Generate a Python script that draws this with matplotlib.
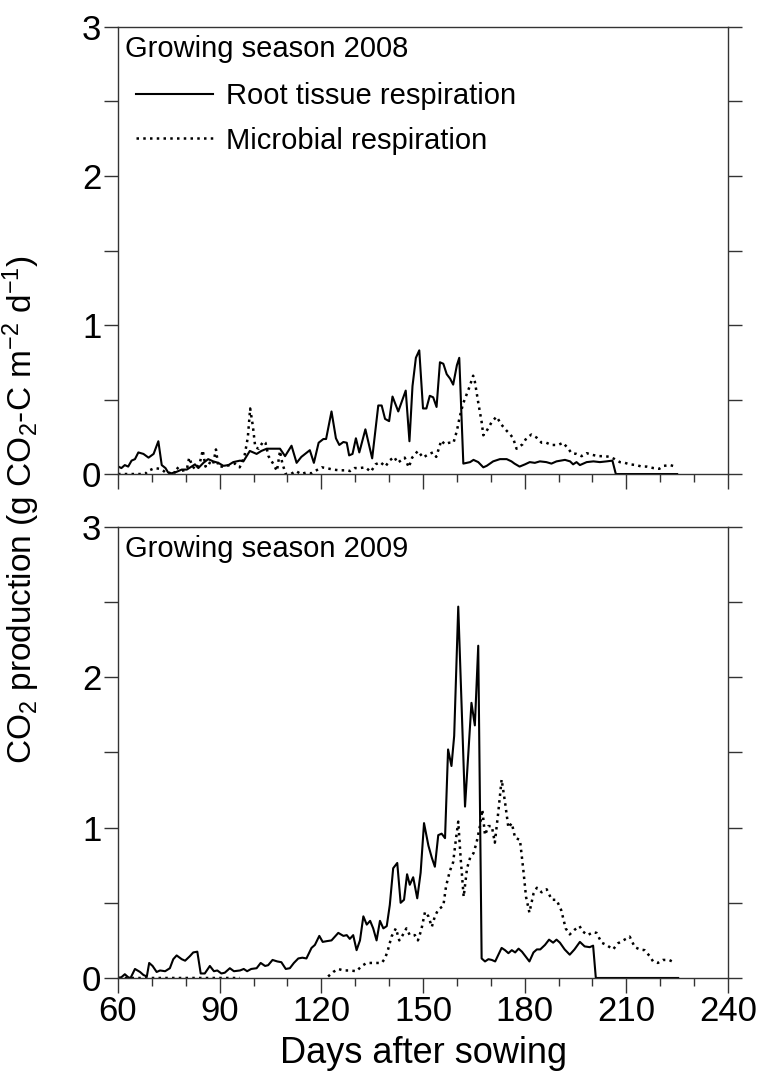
import numpy as np
import matplotlib.pyplot as plt
from matplotlib.ticker import MultipleLocator

plt.rcParams['font.family'] = ['Liberation Sans', 'DejaVu Sans']
plt.rcParams['mathtext.fontset'] = 'custom'
plt.rcParams['mathtext.rm'] = 'Liberation Sans'
plt.rcParams['mathtext.it'] = 'Liberation Sans'
plt.rcParams['mathtext.default'] = 'regular'

# --- 2008, root tissue respiration
root08_day = [60.1, 61, 62, 63, 64, 65, 66, 67.5, 69, 70.5, 71.9, 72.9, 74, 74.8, 75.8, 77.3,
              78.8, 80.3, 81.7, 82.7, 83.7, 85.2, 86.6, 88.1, 89.6, 91.1, 92.6, 94, 96, 97,
              98.9, 100.9, 102.3, 103.9, 105.9, 107.8, 109.3, 111.2, 112.7, 114.1, 116.6, 117.8,
              119.2, 120.6, 121.4, 123, 124.3, 125.3, 126.5, 127.5, 128.2, 129.2, 130.2, 131.2,
              133, 135, 136.8, 137.8, 138.8, 140, 141, 142.7, 144.9, 146, 146.9, 147.9, 148.9,
              150, 151, 152, 153, 154, 155, 156, 157, 158, 158.9, 160, 160.7, 161.9, 163.9,
              164.9, 166.3, 167.8, 168.8, 170.7, 172.7, 174.7, 176.1, 177, 178.5, 180.1, 181.5,
              183, 184.5, 186.4, 187.9, 189.4, 191.9, 193.4, 194.3, 195.3, 196.3, 198.3, 200.3,
              202.2, 204.2, 205.9, 206.9, 215, 225]
root08 = [0.05, 0.04, 0.06, 0.05, 0.09, 0.10, 0.145, 0.135, 0.11, 0.135, 0.22, 0.06, 0.04, 0.01,
          0.005, 0.015, 0.03, 0.03, 0.05, 0.065, 0.04, 0.075, 0.10, 0.085, 0.075, 0.055, 0.06,
          0.08, 0.09, 0.085, 0.155, 0.135, 0.155, 0.17, 0.17, 0.17, 0.12, 0.19, 0.075, 0.115,
          0.16, 0.075, 0.21, 0.235, 0.235, 0.42, 0.24, 0.195, 0.215, 0.21, 0.125, 0.135, 0.24,
          0.145, 0.30, 0.105, 0.46, 0.46, 0.37, 0.355, 0.52, 0.42, 0.56, 0.22, 0.59, 0.78, 0.83,
          0.44, 0.44, 0.525, 0.515, 0.45, 0.75, 0.74, 0.67, 0.64, 0.60, 0.73, 0.78, 0.07, 0.08,
          0.095, 0.08, 0.045, 0.055, 0.085, 0.10, 0.10, 0.085, 0.07, 0.05, 0.065, 0.08, 0.075,
          0.085, 0.08, 0.07, 0.085, 0.095, 0.085, 0.065, 0.08, 0.06, 0.08, 0.085, 0.08, 0.085,
          0.09, 0.0, 0.0, 0.0]

# --- 2008, microbial respiration
mic08_day = [60, 62, 64, 66, 68, 68.8, 70.8, 72.3, 73.5, 74.5, 75.5, 76.5, 77.3, 78.5, 80.3, 81,
             82, 83, 84.2, 85, 85.8, 86.6, 88, 88.9, 89.6, 91, 93, 94.5, 95.9, 96.6, 97.4, 98.3,
             99, 99.8, 100.5, 101.5, 102.9, 103.5, 104.4, 105.9, 106.9, 107.8, 108.5, 109.5, 111,
             112.5, 114, 115.5, 117, 120.1, 121.5, 123.4, 125.3, 127.5, 128.5, 129.8, 131.3, 133,
             134.6, 136, 137.4, 138.9, 140.1, 141.5, 142.5, 144.6, 145.8, 146.8, 148.5, 150,
             151.4, 152.9, 153.9, 155.4, 156.4, 157.7, 159, 160, 160.8, 161.8, 162.8, 163.8,
             164.8, 165.3, 166.3, 167.3, 167.8, 168.8, 170.3, 171.7, 173.2, 174.7, 175.6, 176.6,
             177.6, 179.4, 180.5, 182, 183.5, 185, 186.4, 187.9, 189.9, 191.3, 192.9, 193.8,
             195.3, 196.8, 198.3, 199.7, 201.7, 203.7, 205.1, 206.6, 208.1, 209.6, 211, 213,
             214.5, 216, 218, 219.7, 221.1, 222.9, 224.5]
mic08 = [0, 0, 0, 0, 0, 0.02, 0.04, 0.035, 0.02, 0.0, 0.01, 0.0, 0.045, 0.02, 0.03, 0.11, 0.05,
         0.03, 0.08, 0.16, 0.05, 0.08, 0.06, 0.165, 0.05, 0.05, 0.06, 0.07, 0.045, 0.08, 0.13,
         0.245, 0.44, 0.32, 0.18, 0.17, 0.22, 0.21, 0.12, 0.065, 0.02, 0.155, 0.07, 0.0, 0.0,
         0.02, 0.0, 0.01, 0.005, 0.045, 0.04, 0.03, 0.025, 0.025, 0.02, 0.04, 0.04, 0.045,
         0.015, 0.065, 0.08, 0.05, 0.09, 0.115, 0.075, 0.11, 0.045, 0.11, 0.155, 0.11, 0.13,
         0.145, 0.115, 0.225, 0.20, 0.21, 0.21, 0.29, 0.38, 0.47, 0.53, 0.59, 0.66, 0.62, 0.48,
         0.35, 0.26, 0.29, 0.35, 0.385, 0.33, 0.29, 0.27, 0.24, 0.17, 0.20, 0.24, 0.265, 0.245,
         0.21, 0.21, 0.195, 0.195, 0.21, 0.17, 0.14, 0.135, 0.12, 0.14, 0.13, 0.12, 0.12, 0.115,
         0.10, 0.08, 0.075, 0.065, 0.06, 0.05, 0.05, 0.04, 0.035, 0.055, 0.06, 0.05]

# --- 2009, root tissue respiration
root09_day = [60, 61, 62, 63, 63.7, 65, 66.5, 67.5, 68.5, 69.2, 70.2, 71.4, 72.4, 73.9, 75.3, 76.3,
              77.3, 78.8, 79.8, 81.2, 82.2, 83.4, 84.4, 85.6, 87.1, 88.3, 89.3, 90.5, 91.5, 93,
              94.2, 96, 97.1, 98.1, 99.3, 100.9, 102.1, 103.4, 104.3, 105.6, 107, 108.2, 109.5,
              110.7, 111.9, 113.2, 114.4, 115.6, 117.1, 118.1, 119.4, 120.4, 121.6, 123, 125,
              126.5, 127.5, 128.4, 129.4, 130.4, 131.4, 132.4, 133.4, 134.4, 135.3, 136.3, 137.3,
              138.3, 139.3, 140.2, 141.2, 142.4, 143.4, 144.4, 145.3, 146.1, 147.1, 148.3, 149.3,
              150.3, 151.6, 152.6, 153.5, 154.5, 155.5, 156.5, 157.4, 158.4, 159.2, 160.4, 161.4,
              162.4, 163.4, 164.3, 165.3, 166.3, 167.3, 168.3, 169.3, 170.3, 171.3, 173.2, 174.2,
              175.2, 176.2, 177.2, 178.2, 179.2, 180.2, 181.4, 182.6, 183.6, 184.6, 186, 187.2,
              188.4, 189.4, 190.4, 191.8, 193.3, 194.7, 196.3, 197.7, 199.2, 200.2, 201, 210,
              225.3]
root09 = [0, 0.005, 0.025, 0.005, 0, 0.06, 0.04, 0.02, 0.01, 0.10, 0.08, 0.04, 0.05, 0.045, 0.065,
          0.125, 0.15, 0.125, 0.115, 0.145, 0.17, 0.175, 0.03, 0.03, 0.08, 0.045, 0.05, 0.03,
          0.035, 0.065, 0.045, 0.05, 0.06, 0.045, 0.06, 0.065, 0.10, 0.08, 0.085, 0.12, 0.11,
          0.105, 0.06, 0.065, 0.10, 0.13, 0.135, 0.13, 0.20, 0.22, 0.28, 0.24, 0.245, 0.25, 0.30,
          0.28, 0.285, 0.26, 0.285, 0.185, 0.25, 0.41, 0.355, 0.38, 0.33, 0.25, 0.38, 0.33,
          0.345, 0.485, 0.73, 0.765, 0.50, 0.52, 0.69, 0.62, 0.67, 0.53, 0.70, 1.03, 0.88, 0.80,
          0.74, 0.95, 0.96, 0.93, 1.52, 1.41, 1.61, 2.47, 1.81, 1.14, 1.50, 1.83, 1.68, 2.21,
          0.13, 0.11, 0.125, 0.12, 0.11, 0.20, 0.185, 0.165, 0.185, 0.17, 0.195, 0.175, 0.145,
          0.11, 0.17, 0.19, 0.19, 0.22, 0.255, 0.235, 0.255, 0.235, 0.19, 0.155, 0.19, 0.24,
          0.21, 0.205, 0.215, 0.0, 0.0, 0.0]

# --- 2009, microbial respiration (nan = no measurement)
mic09_day = [60, 62, 64, 66, 68, 70, 72, 74, 76, 78, 80, 82, 84, 86, 88, 90, 92, 94, 96, 100,
             114.2, 118, 122, 123.5, 125, 126.5, 128.4, 130.4, 131.9, 133.4, 135.3, 137.8, 138.8,
             139.7, 140.7, 142, 143, 144, 145.1, 146.1, 147.6, 148.5, 149.5, 150.6, 151.6, 152.6,
             153.5, 154.5, 156, 156.8, 157.9, 158.9, 159.7, 160.4, 161.1, 162, 163, 163.9, 164.9,
             165.8, 166.8, 167.5, 168.3, 169.3, 170.3, 171.2, 172.2, 173.2, 174.2, 175.2, 176.2,
             177.2, 178.6, 179.6, 180.4, 181.4, 182.6, 183.6, 185, 186.5, 188, 189.4, 190.8,
             192.1, 193.3, 194.7, 196.2, 197.1, 198.6, 200.2, 201.2, 202.7, 204.1, 206.1, 207.5,
             209.1, 211, 212.5, 214, 215.4, 216.9, 217.9, 219.3, 220.8, 222.6, 224]
mic09 = [0] * 19 + [np.nan, 0, np.nan,
         0.01, 0.04, 0.06, 0.05, 0.05, 0.045, 0.08, 0.10, 0.10, 0.10, 0.13, 0.19, 0.275, 0.33,
         0.25, 0.285, 0.33, 0.285, 0.285, 0.25, 0.32, 0.44, 0.41, 0.34, 0.41, 0.455, 0.48, 0.61,
         0.71, 0.77, 0.92, 1.04, 0.80, 0.54, 0.73, 0.80, 0.83, 0.90, 1.01, 1.12, 0.95, 1.01,
         1.01, 0.90, 1.10, 1.32, 1.17, 1.00, 1.03, 0.93, 0.92, 0.72, 0.54, 0.435, 0.56, 0.60,
         0.57, 0.59, 0.52, 0.52, 0.45, 0.33, 0.29, 0.32, 0.345, 0.31, 0.285, 0.305, 0.30, 0.235,
         0.22, 0.19, 0.23, 0.25, 0.275, 0.205, 0.19, 0.185, 0.145, 0.11, 0.10, 0.12, 0.12, 0.105]

fs = 25      # tick labels
fs_leg = 21  # panel titles and legend
fig = plt.figure(figsize=(7.58, 10.84), dpi=100)
ax1 = fig.add_axes([0.1557, 0.5627, 0.8047, 0.4124])
ax2 = fig.add_axes([0.1557, 0.0978, 0.8047, 0.4161])

dotted = (0, (1, 1.7))
for ax, rd, rv, md, mv in [(ax1, root08_day, root08, mic08_day, mic08),
                           (ax2, root09_day, root09, mic09_day, mic09)]:
    ax.plot(rd, rv, color='black', lw=1.5, label='Root tissue respiration')
    ax.plot(md, mv, color='black', lw=1.8, ls=dotted, label='Microbial respiration')
    ax.set_xlim(60, 240)
    ax.set_ylim(0, 3)
    ax.xaxis.set_major_locator(MultipleLocator(30))
    ax.xaxis.set_minor_locator(MultipleLocator(10))
    ax.yaxis.set_major_locator(MultipleLocator(1))
    ax.yaxis.set_minor_locator(MultipleLocator(0.5))
    ax.tick_params(which='both', direction='out', labelsize=fs, color='#333333',
                   left=True, right=True, top=False, width=1)
    ax.tick_params(which='major', axis='x', length=11, pad=1)
    ax.tick_params(which='minor', axis='x', length=6)
    ax.tick_params(which='both', axis='y', length=10)
    ax.tick_params(axis='y', pad=2)
    for s in ax.spines.values():
        s.set_color('#333333')
        s.set_linewidth(1)

ax1.tick_params(axis='x', labelbottom=False)
ax2.set_xlabel('Days after sowing', fontsize=26, labelpad=6)

ax1.text(0.012, 0.982, 'Growing season 2008', transform=ax1.transAxes, fontsize=fs_leg, va='top')
ax2.text(0.012, 0.982, 'Growing season 2009', transform=ax2.transAxes, fontsize=fs_leg, va='top')
ax1.legend(loc='upper left', bbox_to_anchor=(0.0, 0.915), frameon=False, fontsize=fs_leg,
           handlelength=2.65, handletextpad=0.45, labelspacing=0.55, borderaxespad=0.2)

fig.text(0.028, 0.53, 'CO$_2$ production (g CO$_2$-C m$^{-2}$ d$^{-1}$)', rotation=90,
         va='center', ha='center', fontsize=24)

fig.savefig('out.png', dpi=100)
